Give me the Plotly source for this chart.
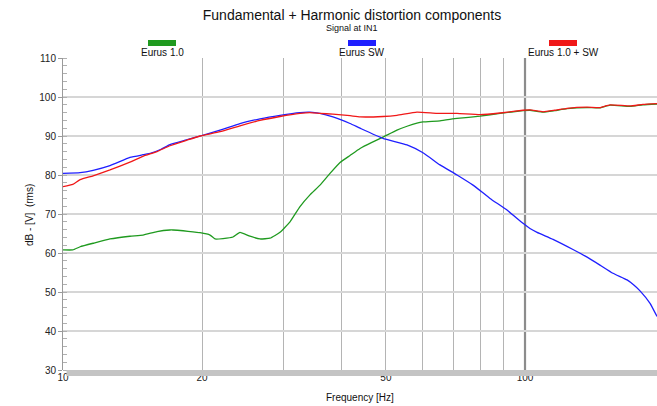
import plotly.graph_objects as go

# ---- data ----
series_names = ["Eurus 1.0", "Eurus SW", "Eurus 1.0 + SW"]
series_colors = ["#1f9a1f", "#1f1fff", "#f01818"]

green_f = [10.0, 10.5, 10.89, 11.62, 12.64, 13.96, 14.9, 15.98, 17.04, 17.3, 18.2, 19.11, 19.8,
           20.81, 21.33, 22.2, 23.33, 24.16, 25.39, 26.69, 28.06, 29.49, 31.0, 32.58, 34.24,
           36.0, 37.84, 39.78, 41.81, 43.95, 46.5, 49.27, 52.83, 55.54, 58.36, 60.14, 65.46,
           71.26, 79.93, 88.29, 99.0, 102.5, 109.4, 116.0, 123.3, 136.2, 145.0, 152.8, 168.8,
           180.0, 193.1]
green_db = [60.8, 60.8, 61.6, 62.5, 63.6, 64.3, 64.6, 65.5, 65.9, 65.9, 65.7, 65.4, 65.2,
            64.6, 63.6, 63.7, 64.1, 65.3, 64.3, 63.6, 63.8, 65.3, 68.0, 71.9, 74.9,
            77.4, 80.4, 83.2, 85.0, 86.8, 88.3, 89.7, 91.5, 92.5, 93.3, 93.6, 93.9,
            94.5, 95.1, 95.8, 96.5, 96.6, 96.1, 96.5, 97.0, 97.3, 97.2, 97.9, 97.6,
            98.0, 98.2]

blue_f = [10.0, 10.89, 11.62, 12.64, 13.96, 14.9, 15.5, 16.3, 17.04, 18.5, 19.8, 21.87, 24.16,
          26.69, 29.49, 32.58, 34.24, 36.0, 38.4, 41.81, 43.95, 49.27, 55.54, 60.14, 65.46,
          71.26, 77.18, 84.0, 91.42, 99.0, 102.5, 106.2, 115.0, 127.0, 136.0, 145.3, 155.0,
          166.3, 172.0, 177.4, 186.5, 193.1]
blue_db = [80.4, 80.6, 81.2, 82.4, 84.5, 85.2, 85.6, 86.6, 87.8, 89.0, 90.0, 91.5, 93.2,
           94.4, 95.3, 96.0, 96.1, 95.8, 94.9, 93.2, 92.0, 89.4, 87.7, 85.7, 82.6,
           80.0, 77.4, 74.0, 71.0, 67.6, 66.3, 65.3, 63.5, 60.9, 59.0, 56.9, 54.8,
           53.1, 51.8, 50.3, 47.1, 43.7]

red_f = [10.0, 10.5, 10.89, 11.62, 12.64, 13.96, 14.9, 15.98, 17.04, 18.5, 19.8, 21.87, 24.16,
         26.69, 29.49, 32.58, 34.24, 36.0, 38.4, 41.81, 43.95, 49.27, 52.83, 58.36, 64.47,
         71.26, 79.93, 88.29, 99.0, 102.5, 109.4, 116.0, 123.3, 136.2, 145.0, 152.8, 168.8,
         180.0, 193.1]
red_db = [77.0, 77.6, 78.8, 79.8, 81.3, 83.3, 84.8, 86.0, 87.5, 88.9, 90.0, 91.1, 92.6,
          94.0, 95.0, 95.8, 96.0, 95.8, 95.6, 95.2, 94.9, 95.0, 95.3, 96.1, 95.8,
          95.8, 95.5, 95.9, 96.6, 96.7, 96.2, 96.6, 97.1, 97.4, 97.3, 98.0, 97.7,
          98.1, 98.3]

x_tick_vals = [10, 20, 50, 100]
x_grid_vals = [20, 30, 40, 50, 60, 70, 80, 90]
y_tick_vals = [30, 40, 50, 60, 70, 80, 90, 100, 110]

freqs = [green_f, blue_f, red_f]
dbs = [green_db, blue_db, red_db]

fig = go.Figure()
for name, col, f, d in zip(series_names, series_colors, freqs, dbs):
    fig.add_trace(go.Scatter(x=f, y=d, mode="lines", name=name,
                             line=dict(color=col, width=1.3, shape="spline", smoothing=0.4),
                             showlegend=False))

font_family = "Liberation Sans, Arial, sans-serif"

W, H = 657, 406

fig.update_layout(
    width=W, height=H,
    margin=dict(l=63, r=0, t=58, b=36),
    paper_bgcolor="white", plot_bgcolor="white",
    font=dict(family=font_family, size=10, color="#222222"),
    title=dict(text="Fundamental + Harmonic distortion components",
               x=352 / W, xanchor="center", xref="container",
               y=1 - 15 / H, yanchor="middle", yref="container",
               font=dict(size=14, color="#111111", family=font_family)),
    xaxis=dict(type="log", range=[1, 2.2857], tickvals=x_tick_vals,
               ticktext=[str(v) for v in x_tick_vals],
               showgrid=False, zeroline=False, showline=False, ticks="",
               tickfont=dict(size=10, color="#222222"),
               minor=dict(tickvals=x_grid_vals, showgrid=True, gridcolor="#b4b4b4",
                          gridwidth=1, ticks="")),
    yaxis=dict(range=[30, 110], tickvals=y_tick_vals, showgrid=True,
               gridcolor="#d6d6d6", gridwidth=1.6, zeroline=False,
               showline=True, linecolor="#9a9a9a", linewidth=1,
               ticks="outside", ticklen=4, tickcolor="#9a9a9a",
               tickfont=dict(size=10, color="#222222"),
               minor=dict(dtick=2, ticks="inside", ticklen=4, tickcolor="#b0b0b0",
                          showgrid=False)),
)

shapes = []
# darker 100 Hz line
shapes.append(dict(type="line", xref="x", yref="paper", x0=100, x1=100, y0=0, y1=1,
                   line=dict(color="#8c8c8c", width=2.2), layer="below"))
# bottom scrollbar-like bar
shapes.append(dict(type="rect", xref="paper", yref="paper", x0=0.006, x1=1.0,
                   y0=-0.019, y1=0.0, fillcolor="#c4c4c4", line=dict(width=0)))

annotations = []
annotations.append(dict(text="Signal at IN1", xref="paper", yref="paper",
                        x=(352 - 63) / 594, y=(370 - 28) / 312, showarrow=False,
                        xanchor="center", yanchor="middle",
                        font=dict(size=9, color="#111111")))
annotations.append(dict(text="Frequency [Hz]", xref="paper", yref="paper",
                        x=0.5, y=-(398 - 370) / 312, showarrow=False,
                        xanchor="center", yanchor="middle",
                        font=dict(size=10, color="#111111")))
annotations.append(dict(text="dB - [V]  (rms)", xref="paper", yref="paper",
                        x=(29 - 63) / 594, y=(370 - 215) / 312, showarrow=False,
                        textangle=-90, xanchor="center", yanchor="middle",
                        font=dict(size=10, color="#111111")))

legend_centers = [162, 362, 563]
for name, col, cx in zip(series_names, series_colors, legend_centers):
    shapes.append(dict(type="rect", xref="paper", yref="paper",
                       x0=(cx - 14 - 63) / 594, x1=(cx + 14 - 63) / 594,
                       y0=(370 - 46) / 312, y1=(370 - 40) / 312,
                       fillcolor=col, line=dict(width=0)))
    annotations.append(dict(text=name, xref="paper", yref="paper",
                            x=(cx - 63) / 594, y=(370 - 52) / 312, showarrow=False,
                            xanchor="center", yanchor="middle",
                            font=dict(size=10, color="#111111")))

fig.update_layout(shapes=shapes, annotations=annotations)
fig.write_html("out.html",
               config={"displayModeBar": False},
               post_script="document.body.style.margin='0px';"
                           "document.body.style.overflow='hidden';")
